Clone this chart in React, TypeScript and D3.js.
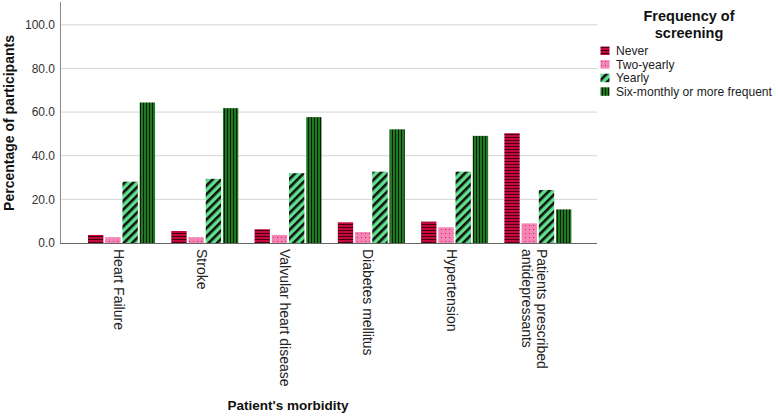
import React, { useRef, useEffect } from "react";
import * as d3 from "d3";

const categories = [
  "Heart Failure",
  "Stroke",
  "Valvular heart disease",
  "Diabetes mellitus",
  "Hypertension",
  "Patients prescribed|antidepressants",
];
const seriesNames = ["Never", "Two-yearly", "Yearly", "Six-monthly or more frequent"];
const never = [3.7, 5.5, 6.3, 9.5, 9.8, 50.3];
const twoYearly = [2.6, 2.6, 3.7, 5.0, 7.2, 9.0];
const yearly = [28.1, 29.4, 32.0, 32.7, 32.7, 24.3];
const sixMonthly = [64.4, 61.8, 57.7, 52.1, 49.1, 15.4];
const yTicks = [0, 20, 40, 60, 80, 100];

const App: React.FC = () => {
  const ref = useRef<SVGSVGElement | null>(null);

  useEffect(() => {
    document.body.style.margin = "0";
    const svg = d3.select(ref.current);
    svg.selectAll("*").remove();

    const width = 778;
    const height = 416;
    svg.attr("width", width).attr("height", height);

    const font = "'Liberation Sans', Arial, sans-serif";
    const defs = svg.append("defs");

    // patterns, one per series
    const pNever = defs.append("pattern").attr("id", "p0").attr("patternUnits", "userSpaceOnUse")
      .attr("width", 4).attr("height", 3);
    pNever.append("rect").attr("width", 4).attr("height", 3).attr("fill", "#c20a3c");
    pNever.append("rect").attr("y", 2).attr("width", 4).attr("height", 1).attr("fill", "#4a0012");

    const pTwo = defs.append("pattern").attr("id", "p1").attr("patternUnits", "userSpaceOnUse")
      .attr("width", 4).attr("height", 4);
    pTwo.append("rect").attr("width", 4).attr("height", 4).attr("fill", "#f584b4");
    pTwo.append("rect").attr("x", 1).attr("y", 1).attr("width", 1).attr("height", 1).attr("fill", "#b8306a");

    const pYear = defs.append("pattern").attr("id", "p2").attr("patternUnits", "userSpaceOnUse")
      .attr("width", 6).attr("height", 6).attr("patternTransform", "rotate(45)");
    pYear.append("rect").attr("width", 6).attr("height", 6).attr("fill", "#5fe08a");
    pYear.append("rect").attr("width", 2.6).attr("height", 6).attr("fill", "#111");

    const pSix = defs.append("pattern").attr("id", "p3").attr("patternUnits", "userSpaceOnUse")
      .attr("width", 3).attr("height", 4);
    pSix.append("rect").attr("width", 3).attr("height", 4).attr("fill", "#1e7a1e");
    pSix.append("rect").attr("x", 2).attr("width", 1).attr("height", 4).attr("fill", "#0a1a0a");

    const x0 = d3.scaleBand().domain(categories).range([79.9, 579.5]);
    const groupW = 67;
    const x1 = d3.scaleBand().domain(seriesNames).range([0, groupW]).paddingInner(0.11);
    const y = d3.scaleLinear().domain([0, 110]).range([243, 3]);

    // gridlines
    svg.append("g").selectAll("line").data(yTicks.slice(1)).enter().append("line")
      .attr("x1", 60).attr("x2", 597)
      .attr("y1", (d) => y(d)).attr("y2", (d) => y(d))
      .attr("stroke", "#d4d4d4").attr("stroke-width", 1);

    // y tick labels
    svg.append("g").selectAll("text").data(yTicks).enter().append("text")
      .attr("x", 55).attr("y", (d) => y(d)).attr("dy", "0.35em")
      .attr("text-anchor", "end").attr("font-family", font).attr("font-size", 12).attr("fill", "#333")
      .text((d) => d.toFixed(1));

    const series = [never, twoYearly, yearly, sixMonthly];
    const bars = svg.append("g");
    categories.forEach((c, ci) => {
      const gx = (x0(c) || 0) + x0.bandwidth() / 2 - groupW / 2;
      series.forEach((vals, si) => {
        bars.append("rect")
          .attr("x", gx + (x1(seriesNames[si]) || 0))
          .attr("y", y(vals[ci]))
          .attr("width", x1.bandwidth())
          .attr("height", y(0) - y(vals[ci]))
          .attr("fill", `url(#p${si})`);
      });
    });

    // axes lines
    svg.append("line").attr("x1", 60.5).attr("x2", 60.5).attr("y1", 2).attr("y2", 243.5)
      .attr("stroke", "#888");
    svg.append("line").attr("x1", 60).attr("x2", 597).attr("y1", 243.5).attr("y2", 243.5)
      .attr("stroke", "#666");

    // category labels, rotated
    const labels = svg.append("g");
    categories.forEach((c) => {
      const cx = (x0(c) || 0) + x0.bandwidth() / 2;
      const lines = c.split("|");
      const t = labels.append("text")
        .attr("transform", `translate(${cx},249) rotate(90)`)
        .attr("font-family", font).attr("font-size", 14).attr("fill", "#222")
        .attr("text-anchor", "start");
      lines.forEach((ln, i) => {
        const off = (i - (lines.length - 1) / 2) * 15;
        t.append("tspan").attr("x", 0).attr("y", off).attr("dy", "0.57em").text(ln);
      });
    });

    // axis titles
    svg.append("text")
      .attr("transform", "translate(9.5,123) rotate(-90)")
      .attr("text-anchor", "middle").attr("dy", "0.35em")
      .attr("font-family", font).attr("font-size", 14).attr("font-weight", "bold").attr("fill", "#111")
      .text("Percentage of participants");
    svg.append("text")
      .attr("x", 288).attr("y", 410)
      .attr("text-anchor", "middle")
      .attr("font-family", font).attr("font-size", 13.5).attr("font-weight", "bold").attr("fill", "#111")
      .text("Patient's morbidity");

    // legend
    const legend = svg.append("g");
    ["Frequency of", "screening"].forEach((t, i) => {
      legend.append("text").attr("x", 689).attr("y", 21 + i * 16.5)
        .attr("text-anchor", "middle")
        .attr("font-family", font).attr("font-size", 14.5).attr("font-weight", "bold").attr("fill", "#111")
        .text(t);
    });
    seriesNames.forEach((s, i) => {
      const ly = 46.5 + i * 13.6;
      legend.append("rect").attr("x", 600.5).attr("y", ly).attr("width", 9).attr("height", 8.5)
        .attr("fill", `url(#p${i})`);
      legend.append("text").attr("x", 616).attr("y", ly + 4.25).attr("dy", "0.35em")
        .attr("font-family", font).attr("font-size", 12.1).attr("fill", "#222")
        .text(s);
    });
  }, []);

  return <svg ref={ref} style={{ display: "block" }}></svg>;
};

export default App;
